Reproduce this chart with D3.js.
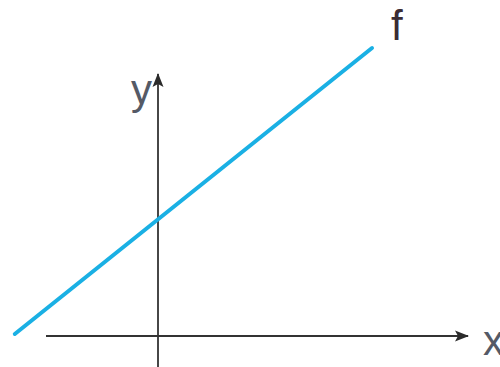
<!DOCTYPE html>
<html>
<head>
<meta charset="utf-8">
<script src="https://cdn.jsdelivr.net/npm/d3@7"></script>
<style>
  html, body { margin: 0; padding: 0; background: #fff; }
  svg { display: block; }
  text { font-family: "Liberation Sans", Arial, sans-serif; }
</style>
</head>
<body>
<svg width="500" height="367"></svg>
<script>
const svg = d3.select('svg');

// math-space data (units), origin at axes crossing
const xAxisExtent = [-2.8, 7.75];
const yAxisExtent = [-0.8, 6.55];
const lineXs = [-3.58, 5.35];
const lineYs = [0.05, 7.2];
const axisLabels = ['x', 'y'];
const funcLabel = 'f';

const unit = 40;
const origin = { x: 158, y: 336 };

const x = d3.scaleLinear().domain([0, 1]).range([origin.x, origin.x + unit]);
const y = d3.scaleLinear().domain([0, 1]).range([origin.y, origin.y - unit]);

// arrowhead marker
const defs = svg.append('defs');
defs.append('marker')
  .attr('id', 'arrow')
  .attr('markerUnits', 'userSpaceOnUse')
  .attr('viewBox', '0 0 14 12')
  .attr('refX', 13)
  .attr('refY', 6)
  .attr('markerWidth', 14)
  .attr('markerHeight', 12)
  .attr('orient', 'auto')
  .append('path')
  .attr('d', 'M0,0.5 L14,6 L0,11.5 L3,6 Z')
  .attr('fill', '#2b2b2b');

const axisColor = '#333';

// x axis
svg.append('line')
  .attr('x1', x(xAxisExtent[0])).attr('y1', y(0))
  .attr('x2', x(xAxisExtent[1])).attr('y2', y(0))
  .attr('stroke', axisColor)
  .attr('stroke-width', 1.8)
  .attr('marker-end', 'url(#arrow)');

// y axis
svg.append('line')
  .attr('x1', x(0)).attr('y1', y(yAxisExtent[0]))
  .attr('x2', x(0)).attr('y2', y(yAxisExtent[1]))
  .attr('stroke', axisColor)
  .attr('stroke-width', 1.8)
  .attr('marker-end', 'url(#arrow)');

// the function line
const pts = lineXs.map((d, i) => [d, lineYs[i]]);
svg.append('path')
  .datum(pts)
  .attr('fill', 'none')
  .attr('stroke', '#1ab0e4')
  .attr('stroke-width', 4)
  .attr('stroke-linecap', 'round')
  .attr('d', d3.line().x(d => x(d[0])).y(d => y(d[1])));

// labels
svg.append('text')
  .attr('x', x(xAxisExtent[1]) + 15)
  .attr('y', y(0) + 19)
  .attr('font-size', 42)
  .attr('fill', '#555a66')
  .text(axisLabels[0]);

svg.append('text')
  .attr('x', x(0) - 6)
  .attr('y', y(yAxisExtent[1]) + 30)
  .attr('text-anchor', 'end')
  .attr('font-size', 42)
  .attr('fill', '#555a66')
  .text(axisLabels[1]);

svg.append('text')
  .attr('x', x(lineXs[1]) + 19)
  .attr('y', y(lineYs[1]) - 8)
  .attr('font-size', 42)
  .attr('fill', '#3a2c33')
  .text(funcLabel);
</script>
</body>
</html>
